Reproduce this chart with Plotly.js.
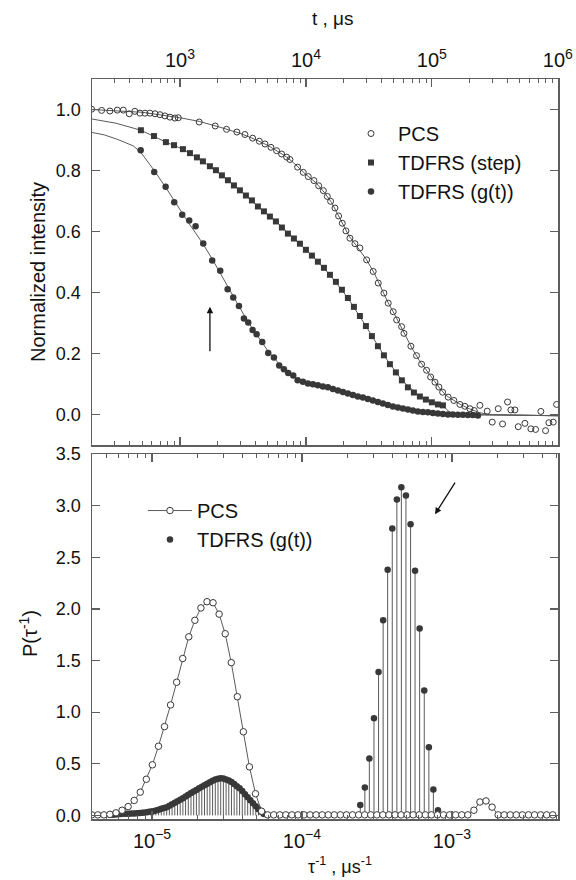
<!DOCTYPE html>
<html><head><meta charset="utf-8">
<script src="https://cdn.plot.ly/plotly-3.0.1.min.js"></script>
<style>html,body{margin:0;padding:0;background:#fff}#chart{width:576px;height:880px}</style>
</head><body><div id="chart"></div>
<script>
// ---------- Top panel: normalized intensity vs t (µs) ----------
const pcsT = [199, 239, 278, 318, 355, 396, 439, 482, 528, 578, 634, 694, 760, 833, 912, 970, 1422, 1905, 2344, 2831, 3281, 3775, 4266, 4732, 5278, 5852, 6412, 7031, 7467, 8590, 9530, 10440, 11580, 12620, 13750, 14790, 15710, 17000, 18170, 19440, 20790, 22350, 24500, 26830, 30340, 34200, 37500, 41600, 45000, 49300, 52500, 57500, 60000, 68100, 75500, 82800, 90700, 97700, 105700, 113700, 121700, 134700, 149500, 166900, 182700, 200300, 216900, 240500, 274800, 301300, 336100, 363800, 398700, 423700, 455900, 484600, 547500, 610600, 665500, 732800, 798500, 848500, 918700, 977000];
const pcsV = [1.001, 0.997, 0.995, 0.998, 0.998, 0.986, 0.994, 0.988, 0.988, 0.988, 0.986, 0.983, 0.979, 0.975, 0.972, 0.973, 0.959, 0.946, 0.935, 0.926, 0.918, 0.906, 0.896, 0.887, 0.876, 0.865, 0.854, 0.844, 0.836, 0.811, 0.794, 0.780, 0.767, 0.750, 0.734, 0.715, 0.699, 0.677, 0.651, 0.627, 0.602, 0.578, 0.560, 0.546, 0.507, 0.469, 0.431, 0.398, 0.365, 0.337, 0.310, 0.288, 0.266, 0.224, 0.193, 0.165, 0.145, 0.123, 0.106, 0.090, 0.073, 0.057, 0.046, 0.033, 0.027, 0.019, 0.013, 0.030, 0.011, -0.025, 0.019, -0.031, 0.041, 0.015, 0.015, -0.040, -0.029, -0.047, -0.049, 0.010, -0.053, -0.027, -0.025, 0.033];
const pcsFitT = [193, 500, 1000, 1422, 2000, 3000, 4000, 5000, 6000, 7000, 8000, 10000, 12000, 14000, 16000, 18000, 20000, 22000, 25000, 30000, 35000, 40000, 45000, 50000, 60000, 70000, 80000, 90000, 100000, 115000, 130000, 150000, 170000, 200000, 240000, 280000, 1000000];
const pcsFitV = [1.0, 0.991, 0.973, 0.961, 0.944, 0.922, 0.901, 0.882, 0.862, 0.845, 0.825, 0.787, 0.760, 0.728, 0.695, 0.655, 0.617, 0.585, 0.555, 0.510, 0.462, 0.411, 0.366, 0.332, 0.270, 0.215, 0.175, 0.147, 0.120, 0.087, 0.062, 0.045, 0.032, 0.018, 0.006, 0.0, -0.004];

const stepT = [490, 622, 774, 897, 1056, 1201, 1364, 1522, 1730, 1931, 2154, 2404, 2683, 2994, 3341, 3728, 4159, 4642, 5179, 5779, 6449, 7197, 8031, 8961, 10000, 11160, 12450, 13900, 15510, 17300, 19310, 21540, 24040, 26830, 29940, 33410, 37280, 41590, 46420, 51790, 57790, 64490, 71970, 80310, 89610, 100000, 111600, 122300];
const stepV = [0.932, 0.913, 0.893, 0.883, 0.870, 0.857, 0.843, 0.830, 0.814, 0.801, 0.784, 0.768, 0.751, 0.735, 0.718, 0.702, 0.682, 0.666, 0.649, 0.633, 0.613, 0.593, 0.577, 0.560, 0.540, 0.521, 0.501, 0.481, 0.458, 0.435, 0.409, 0.382, 0.353, 0.323, 0.290, 0.257, 0.224, 0.194, 0.165, 0.138, 0.112, 0.089, 0.072, 0.059, 0.049, 0.040, 0.033, 0.030];
const stepFitT = [193, 311, 490, 774, 1056, 1522, 2154, 2994, 4159, 5779, 8031, 11160, 15510, 21540, 29940, 41590, 57790, 80310, 100000, 122300, 135000, 150000, 1000000];
const stepFitV = [0.970, 0.955, 0.932, 0.893, 0.870, 0.830, 0.784, 0.735, 0.682, 0.633, 0.577, 0.521, 0.458, 0.382, 0.290, 0.194, 0.112, 0.059, 0.040, 0.028, 0.012, 0.0, -0.004];

const gtT = [488, 625, 770, 901, 1043, 1185, 1332, 1531, 1804, 2089, 2391, 2649, 2939, 3221, 3484, 3776, 4062, 4500, 5022, 5572, 6138, 6690, 7236, 7930, 8595, 9467, 10370, 11370, 12450, 13640, 14950, 16380, 17950, 19670, 21540, 23610, 25860, 28340, 31060, 34020, 37280, 40840, 44750, 49030, 53730, 58880, 64490, 70670, 77430, 84840, 92960, 101800, 111600, 122300, 134000, 146800, 160800, 176200, 193100, 211500, 231800];
const gtV = [0.866, 0.795, 0.747, 0.696, 0.655, 0.636, 0.617, 0.561, 0.505, 0.471, 0.411, 0.384, 0.356, 0.315, 0.302, 0.277, 0.263, 0.238, 0.202, 0.187, 0.161, 0.148, 0.136, 0.128, 0.112, 0.107, 0.102, 0.099, 0.096, 0.092, 0.089, 0.084, 0.079, 0.074, 0.069, 0.064, 0.059, 0.056, 0.051, 0.046, 0.041, 0.036, 0.031, 0.026, 0.023, 0.020, 0.016, 0.013, 0.010, 0.008, 0.007, 0.005, 0.003, 0.002, 0.0, 0.0, -0.001, -0.001, -0.002, -0.002, -0.003];
const gtFitT = [193, 250, 315, 425, 488, 625, 770, 901, 1043, 1185, 1332, 1531, 1804, 2089, 2391, 2649, 2939, 3221, 3484, 3776, 4062, 4500, 5022, 5572, 6138, 6690, 7236, 7930, 8595, 9467, 11370, 13640, 16380, 19670, 23610, 28340, 34020, 40840, 49030, 58880, 70670, 84840, 101800, 122300, 146800, 1000000];
const gtFitV = [0.926, 0.917, 0.903, 0.881, 0.860, 0.800, 0.745, 0.700, 0.660, 0.625, 0.595, 0.558, 0.510, 0.465, 0.422, 0.388, 0.355, 0.326, 0.303, 0.281, 0.261, 0.235, 0.207, 0.185, 0.165, 0.149, 0.137, 0.125, 0.115, 0.108, 0.099, 0.092, 0.084, 0.074, 0.064, 0.055, 0.046, 0.036, 0.026, 0.019, 0.013, 0.008, 0.004, 0.001, 0.0, -0.004];

// ---------- Bottom panel: P(1/tau) vs 1/tau (µs^-1) ----------
const pcsRate = [3.964e-6, 4.351e-6, 4.776e-6, 5.242e-6, 5.754e-6, 6.316e-6, 6.932e-6, 7.609e-6, 8.351e-6, 9.166e-6, 1.0061e-5, 1.1043e-5, 1.2121e-5, 1.3304e-5, 1.4603e-5, 1.6028e-5, 1.7592e-5, 1.9310e-5, 2.1194e-5, 2.3263e-5, 2.5534e-5, 2.8026e-5, 3.0761e-5, 3.3764e-5, 3.7059e-5, 4.0676e-5, 4.4647e-5, 4.9005e-5, 5.3788e-5, 5.9038e-5, 6.480e-5, 7.113e-5, 7.807e-5, 8.569e-5, 9.401e-5, 1.0318e-4, 1.1325e-4, 1.2431e-4, 1.3646e-4, 1.4977e-4, 1.6438e-4, 1.8043e-4, 1.9803e-4, 2.1737e-4, 2.3858e-4, 2.6186e-4, 2.8743e-4, 3.1548e-4, 3.4628e-4, 3.8007e-4, 4.1717e-4, 4.5789e-4, 5.0258e-4, 5.5164e-4, 6.0548e-4, 6.6457e-4, 7.2944e-4, 8.0064e-4, 8.7879e-4, 9.6456e-4, 1.0587e-3, 1.1621e-3, 1.2755e-3, 1.4000e-3, 1.5366e-3, 1.6866e-3, 1.8512e-3, 2.0319e-3, 2.2302e-3, 2.4479e-3, 2.6868e-3, 2.9491e-3, 3.2369e-3, 3.5528e-3, 3.8996e-3, 4.2802e-3, 4.6980e-3];
const pcsP = [0.005, 0.005, 0.005, 0.01, 0.025, 0.05, 0.085, 0.145, 0.225, 0.35, 0.49, 0.67, 0.86, 1.07, 1.29, 1.52, 1.73, 1.89, 2.01, 2.07, 2.06, 1.95, 1.76, 1.48, 1.15, 0.81, 0.47, 0.21, 0.04, 0.005, 0.005, 0.005, 0.005, 0.005, 0.005, 0.005, 0.005, 0.005, 0.005, 0.005, 0.005, 0.005, 0.005, 0.005, 0.005, 0.005, 0.005, 0.005, 0.005, 0.005, 0.005, 0.005, 0.005, 0.005, 0.005, 0.005, 0.005, 0.005, 0.005, 0.005, 0.005, 0.005, 0.005, 0.05, 0.13, 0.14, 0.08, 0.005, 0.005, 0.005, 0.005, 0.005, 0.005, 0.005, 0.005, 0.005, 0.005];

const gtLowRate = [5.248e-6, 5.470e-6, 5.702e-6, 5.943e-6, 6.194e-6, 6.457e-6, 6.730e-6, 7.015e-6, 7.311e-6, 7.621e-6, 7.943e-6, 8.279e-6, 8.630e-6, 8.995e-6, 9.376e-6, 9.772e-6, 1.0186e-5, 1.0617e-5, 1.1066e-5, 1.1535e-5, 1.2023e-5, 1.2531e-5, 1.3062e-5, 1.3614e-5, 1.4191e-5, 1.4791e-5, 1.5417e-5, 1.6069e-5, 1.6749e-5, 1.7458e-5, 1.8197e-5, 1.8967e-5, 1.9770e-5, 2.0606e-5, 2.1478e-5, 2.2387e-5, 2.3335e-5, 2.4322e-5, 2.5351e-5, 2.6424e-5, 2.7542e-5, 2.8708e-5, 2.9923e-5, 3.1189e-5, 3.2509e-5, 3.3884e-5, 3.5318e-5, 3.6813e-5, 3.8371e-5, 3.9994e-5, 4.1687e-5, 4.3451e-5, 4.5290e-5, 4.7206e-5, 4.9204e-5, 5.1286e-5, 5.3456e-5, 5.5719e-5];
const gtLowP = [0.005, 0.007, 0.009, 0.011, 0.013, 0.015, 0.016, 0.017, 0.018, 0.019, 0.021, 0.022, 0.025, 0.029, 0.033, 0.037, 0.040, 0.047, 0.055, 0.064, 0.072, 0.080, 0.093, 0.108, 0.122, 0.137, 0.151, 0.167, 0.184, 0.200, 0.216, 0.232, 0.247, 0.262, 0.278, 0.293, 0.307, 0.321, 0.335, 0.348, 0.356, 0.359, 0.358, 0.347, 0.338, 0.324, 0.303, 0.283, 0.263, 0.236, 0.205, 0.175, 0.147, 0.118, 0.088, 0.059, 0.035, 0.013];
const gtHighRate = [2.446e-4, 2.626e-4, 2.813e-4, 3.020e-4, 3.241e-4, 3.477e-4, 3.726e-4, 3.999e-4, 4.292e-4, 4.598e-4, 4.934e-4, 5.297e-4, 5.675e-4, 6.088e-4, 6.536e-4, 7.015e-4, 7.516e-4, 8.066e-4];
const gtHighP = [0.10, 0.27, 0.55, 0.94, 1.39, 1.89, 2.38, 2.78, 3.06, 3.18, 3.10, 2.82, 2.37, 1.81, 1.21, 0.66, 0.25, 0.05];

// ---------- styling ----------
const FONT = '"Liberation Sans", Arial, Helvetica, sans-serif';
const INK = '#383838';
const LINE = '#5a5a5a';
const AX = '#5e5e5e';

const gtRate = gtLowRate.concat(gtHighRate);
const gtP = gtLowP.concat(gtHighP);

const traces = [
  {x: pcsFitT, y: pcsFitV, mode: 'lines', line: {color: LINE, width: 1}, showlegend: false, hoverinfo: 'skip', xaxis: 'x', yaxis: 'y'},
  {x: stepFitT, y: stepFitV, mode: 'lines', line: {color: LINE, width: 1}, showlegend: false, hoverinfo: 'skip', xaxis: 'x', yaxis: 'y'},
  {x: gtFitT, y: gtFitV, mode: 'lines', line: {color: LINE, width: 1}, showlegend: false, hoverinfo: 'skip', xaxis: 'x', yaxis: 'y'},
  {x: pcsT, y: pcsV, mode: 'markers', name: 'PCS', legend: 'legend', legendrank: 1,
   marker: {symbol: 'circle-open', size: 6, color: INK, line: {width: 1, color: INK}}, xaxis: 'x', yaxis: 'y'},
  {x: stepT, y: stepV, mode: 'markers', name: 'TDFRS (step)', legend: 'legend', legendrank: 2,
   marker: {symbol: 'square', size: 6, color: INK}, xaxis: 'x', yaxis: 'y'},
  {x: gtT, y: gtV, mode: 'markers', name: 'TDFRS (g(t))', legend: 'legend', legendrank: 3,
   marker: {symbol: 'circle', size: 6.5, color: INK}, xaxis: 'x', yaxis: 'y'},

  {x: gtRate, y: gtP, mode: 'markers', name: 'TDFRS (g(t))', legend: 'legend2', legendrank: 2,
   marker: {symbol: 'circle', size: 6.5, color: INK},
   error_y: {type: 'data', symmetric: false, array: gtP.map(() => 0), arrayminus: gtP, width: 0, thickness: 1, color: LINE},
   xaxis: 'x2', yaxis: 'y2'},
  {x: pcsRate, y: pcsP, mode: 'lines+markers', name: 'PCS', legend: 'legend2', legendrank: 1,
   line: {color: LINE, width: 1},
   marker: {symbol: 'circle', size: 6.5, color: '#ffffff', line: {width: 1, color: INK}}, xaxis: 'x2', yaxis: 'y2'}
];

const axCommon = {
  showline: true, linecolor: AX, linewidth: 1.5, mirror: 'ticks',
  ticks: 'inside', ticklen: 8, tickwidth: 1.2, tickcolor: AX,
  showgrid: false, zeroline: false,
  tickfont: {family: FONT, size: 16, color: '#111'}
};
const logMinor = {ticks: 'inside', ticklen: 4, tickwidth: 1, tickcolor: AX, showgrid: false};

const layout = {
  width: 576, height: 880,
  margin: {l: 92, r: 18, t: 79, b: 61},
  paper_bgcolor: '#ffffff', plot_bgcolor: '#ffffff',
  font: {family: FONT, color: '#111'},
  xaxis: Object.assign({}, axCommon, {
    type: 'log', range: [2.302, 6.001], side: 'top', anchor: 'y', dtick: 1,
    exponentformat: 'power', showexponent: 'all', minor: logMinor, ticklabelstandoff: 3
  }),
  yaxis: Object.assign({}, axCommon, {
    domain: [0.5054, 1], range: [-0.1, 1.1], dtick: 0.2, tick0: 0, tickformat: '.1f',
    anchor: 'x', tickfont: {family: FONT, size: 18, color: '#111'}, ticklabelstandoff: 6
  }),
  xaxis2: Object.assign({}, axCommon, {
    type: 'log', range: [-5.4, -2.293], side: 'bottom', anchor: 'y2', dtick: 1,
    exponentformat: 'power', showexponent: 'all', minor: logMinor, ticklabelstandoff: 4
  }),
  yaxis2: Object.assign({}, axCommon, {
    domain: [0, 0.4932], range: [-0.035, 3.501], dtick: 0.5, tick0: 0, tickformat: '.1f',
    anchor: 'x2', tickfont: {family: FONT, size: 18, color: '#111'}, ticklabelstandoff: 6
  }),
  legend: {x: 0.5408, y: 0.9527, xanchor: 'left', yanchor: 'top', bgcolor: 'rgba(0,0,0,0)',
           font: {family: FONT, size: 20, color: '#111'}, tracegroupgap: 0, itemwidth: 44, traceorder: 'normal'},
  legend2: {x: 0.1094, y: 0.4432, xanchor: 'left', yanchor: 'top', bgcolor: 'rgba(0,0,0,0)',
            font: {family: FONT, size: 20, color: '#111'}, tracegroupgap: 0, itemwidth: 44, traceorder: 'normal'},
  showlegend: true,
  annotations: [
    {text: 't , μs', xref: 'paper', yref: 'paper', x: 0.517, y: 1.0824, xanchor: 'center', yanchor: 'middle',
     showarrow: false, font: {family: FONT, size: 19, color: '#111'}},
    {text: 'τ<sup>-1</sup> , μs<sup>-1</sup>', xref: 'paper', yref: 'paper', x: 0.532, y: -0.063, xanchor: 'center', yanchor: 'middle',
     showarrow: false, font: {family: FONT, size: 18, color: '#111'}},
    {text: 'Normalized intensity', xref: 'paper', yref: 'paper', x: -0.1159, y: 0.7392, xanchor: 'center', yanchor: 'middle',
     textangle: -90, showarrow: false, font: {family: FONT, size: 20, color: '#111'}},
    {text: 'P(τ<sup>-1</sup>)', xref: 'paper', yref: 'paper', x: -0.1373, y: 0.25, xanchor: 'center', yanchor: 'middle',
     textangle: -90, showarrow: false, font: {family: FONT, size: 20, color: '#111'}},
    {text: '', xref: 'x', yref: 'y', x: 3.238, y: 0.353, ax: 0, ay: 46, showarrow: true,
     arrowhead: 2, arrowsize: 1, arrowwidth: 1.3, arrowcolor: '#111'},
    {text: '', xref: 'x2', yref: 'y2', x: -3.113, y: 2.918, ax: 21, ay: -33, showarrow: true,
     arrowhead: 2, arrowsize: 1, arrowwidth: 1.3, arrowcolor: '#111'}
  ]
};

Plotly.newPlot('chart', traces, layout, {staticPlot: true, displayModeBar: false});
</script>
</body></html>
